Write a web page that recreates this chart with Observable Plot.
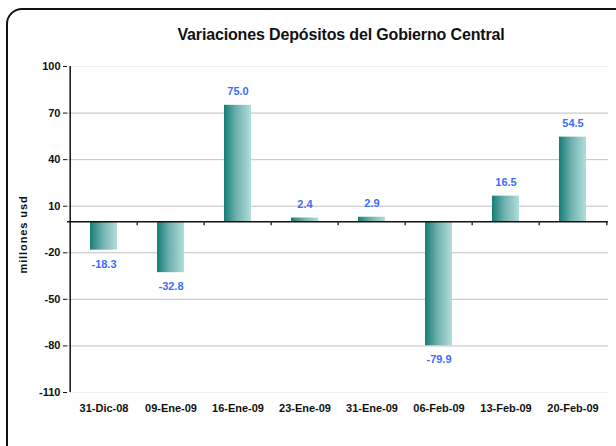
<!DOCTYPE html>
<html>
<head>
<meta charset="utf-8">
<script src="https://cdn.jsdelivr.net/npm/d3@7"></script>
<script src="https://cdn.jsdelivr.net/npm/@observablehq/plot@0.6"></script>
<style>
  html, body { margin: 0; padding: 0; background: #fff; overflow: hidden; }
  #wrap { position: relative; width: 616px; height: 446px; font-family: "Liberation Sans", Arial, sans-serif; }
  #frame { position: absolute; left: 6px; top: 8px; width: 640px; height: 460px; border: 2px solid #111; border-radius: 16px; box-sizing: border-box; }
  #title { position: absolute; left: 0; width: 682px; top: 26px; text-align: center; font-weight: bold; font-size: 16px; letter-spacing: -0.15px; color: #111; }
  #chart { position: absolute; left: 0; top: 0; }
</style>
</head>
<body>
<div id="wrap">
  <div id="frame"></div>
  <div id="title">Variaciones Depósitos del Gobierno Central</div>
  <div id="chart"></div>
</div>
<script>
const categories = ["31-Dic-08", "09-Ene-09", "16-Ene-09", "23-Ene-09", "31-Ene-09", "06-Feb-09", "13-Feb-09", "20-Feb-09"];
const values = [-18.3, -32.8, 75.0, 2.4, 2.9, -79.9, 16.5, 54.5];
const yTicks = [-110, -80, -50, -20, 10, 40, 70, 100];
const gridTicks = [-80, -50, -20, 10, 40, 70];
const yLabel = "millones usd";

const data = categories.map((c, i) => ({cat: c, v: values[i]}));
const width = 616, height = 446;
const mL = 67, mR = 8, mT = 66, mB = 54;
const band = (width - mL - mR) / categories.length;

const plot = Plot.plot({
  width, height,
  marginLeft: mL, marginRight: mR, marginTop: mT, marginBottom: mB,
  style: {fontFamily: "Liberation Sans, Arial, sans-serif", fontSize: "11px", fontWeight: "bold", color: "#111", background: "transparent"},
  x: {domain: categories, padding: 0, label: null},
  y: {domain: [-110, 100], label: null},
  marks: [
    Plot.ruleY(gridTicks, {stroke: "#c0c0c0", strokeWidth: 1}),
    Plot.ruleY([100, -110], {stroke: "#f0f0f0", strokeWidth: 1}),
    Plot.barY(data, {x: "cat", y: "v", fill: "url(#barGrad)", insetLeft: 20, insetRight: 20}),
    Plot.ruleY([0], {stroke: "#111", strokeWidth: 1.5}),
    Plot.ruleX(categories.slice(1), {x: d => d, y1: 0, y2: -2.6, dx: -band / 2, stroke: "#333", strokeWidth: 1.5}),
    Plot.ruleX(categories.slice(-1), {x: d => d, y1: 0, y2: -2.6, dx: band / 2, stroke: "#333", strokeWidth: 1.5}),
    Plot.ruleX(categories.slice(0, 1), {x: d => d, y1: -110, y2: 100, dx: -band / 2, stroke: "#111", strokeWidth: 1.5}),
    Plot.axisY({ticks: yTicks, tickSize: 4, tickPadding: 3, tickFormat: d => d, label: null, fontSize: 11, fontWeight: "bold"}),
    Plot.axisX({tickSize: 0, tickPadding: 12, label: null, fontSize: 11, fontWeight: "bold"}),
    Plot.text(data, {x: "cat", y: "v", text: d => d.v.toFixed(1), fill: "#3d6bff", fontWeight: "bold", fontSize: 11,
      filter: d => d.v >= 0, dy: -14}),
    Plot.text(data, {x: "cat", y: "v", text: d => d.v.toFixed(1), fill: "#3d6bff", fontWeight: "bold", fontSize: 11,
      filter: d => d.v < 0, dy: 14}),
    Plot.text([yLabel], {frameAnchor: "left", dx: -44, dy: 5, rotate: -90, textAnchor: "middle", text: d => d, fontWeight: "bold", fontSize: 11, fill: "#111"})
  ]
});

const svg = d3.select(plot);
const defs = svg.insert("defs", ":first-child");
const g = defs.append("linearGradient").attr("id", "barGrad").attr("x1", "0%").attr("x2", "100%").attr("y1", "0%").attr("y2", "0%");
g.append("stop").attr("offset", "0%").attr("stop-color", "#167d78");
g.append("stop").attr("offset", "45%").attr("stop-color", "#6fb0ad");
g.append("stop").attr("offset", "100%").attr("stop-color", "#b3dedb");
svg.selectAll("text").filter(function() { return this.textContent === yLabel; }).attr("letter-spacing", "0.9px");
document.getElementById("chart").appendChild(plot);
</script>
</body>
</html>
